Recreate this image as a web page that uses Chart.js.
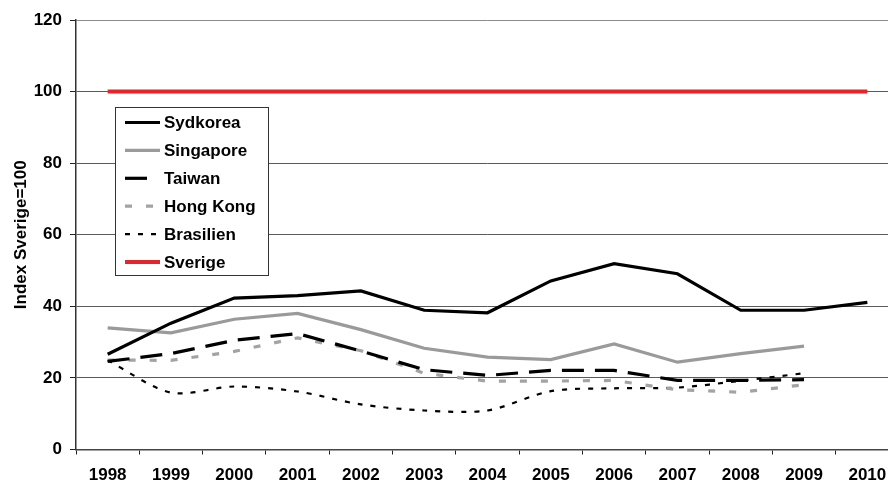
<!DOCTYPE html>
<html>
<head>
<meta charset="utf-8">
<script src="https://cdn.jsdelivr.net/npm/chart.js@4.4.1/dist/chart.umd.min.js"></script>
<style>
  html, body { margin: 0; padding: 0; background: #fff; overflow: hidden; }
  #wrap { width: 904px; height: 481px; }
</style>
</head>
<body>
<div id="wrap"><canvas id="myChart" width="904" height="481"></canvas></div>
<script>
const years = ['1998', '1999', '2000', '2001', '2002', '2003', '2004', '2005', '2006', '2007', '2008', '2009', '2010'];

const sydkorea  = [26.6, 35.3, 42.3, 43.0, 44.3, 38.9, 38.2, 47.1, 51.9, 49.1, 38.9, 38.9, 41.1];
const singapore = [34.0, 32.6, 36.4, 38.0, 33.5, 28.3, 25.8, 25.1, 29.5, 24.4, 26.8, 28.9, null];
const taiwan    = [24.6, 26.8, 30.5, 32.4, 27.5, 22.3, 20.7, 22.1, 22.1, 19.3, 19.3, 19.5, null];
const hongkong  = [25.0, 24.9, 27.4, 31.2, 27.6, 21.3, 19.1, 19.1, 19.3, 16.7, 16.0, 18.1, null];
const brasilien = [24.9, 15.9, 17.6, 16.2, 12.6, 10.9, 10.9, 16.3, 17.1, 17.3, 19.2, 21.3, null];
const sverige   = [100, 100, 100, 100, 100, 100, 100, 100, 100, 100, 100, 100, 100];

const yTicks = [0, 20, 40, 60, 80, 100, 120];

const FONT = "'Liberation Sans', Arial, sans-serif";

// legend box drawn inside the plot, reading styles from the datasets
const boxLegend = {
  id: 'boxLegend',
  afterDraw(chart) {
    const ctx = chart.ctx;
    const x0 = 115.5, y0 = 107.5, w = 153, h = 168;
    ctx.save();
    ctx.fillStyle = '#fff';
    ctx.fillRect(x0, y0, w, h);
    ctx.strokeStyle = '#333';
    ctx.lineWidth = 1;
    ctx.strokeRect(x0, y0, w, h);
    ctx.font = 'bold 17px ' + FONT;
    ctx.textBaseline = 'middle';
    ctx.textAlign = 'left';
    chart.data.datasets.forEach(function (ds, i) {
      const y = 122.5 + i * 27.9;
      const dash = ds.borderDash || [];
      // a long dash gets a single segment in the sample, like the plotted line
      const end = dash.length && dash[0] > 15 ? 125 + dash[0] : 160;
      ctx.beginPath();
      ctx.setLineDash(dash);
      ctx.lineDashOffset = 0;
      ctx.strokeStyle = ds.borderColor;
      ctx.lineWidth = ds.borderWidth;
      ctx.lineCap = 'butt';
      ctx.moveTo(125, y);
      ctx.lineTo(end, y);
      ctx.stroke();
      ctx.setLineDash([]);
      ctx.fillStyle = '#000';
      ctx.fillText(ds.label, 164, y + 1);
    });
    ctx.restore();
  }
};

function line(label, data, color, width, dash, tension) {
  return {
    label: label,
    data: data,
    borderColor: color,
    backgroundColor: color,
    borderWidth: width,
    borderDash: dash,
    borderCapStyle: 'butt',
    borderJoinStyle: 'miter',
    pointRadius: 0,
    pointHoverRadius: 0,
    tension: tension || 0,
    fill: false,
    spanGaps: false
  };
}

new Chart(document.getElementById('myChart'), {
  type: 'line',
  data: {
    labels: years,
    datasets: [
      line('Sydkorea', sydkorea, '#000000', 3.2, []),
      line('Singapore', singapore, '#9a9a9a', 3.2, []),
      line('Taiwan', taiwan, '#000000', 3.2, [22, 11]),
      line('Hong Kong', hongkong, '#a3a3a3', 3.2, [7, 14]),
      line('Brasilien', brasilien, '#000000', 2.2, [5, 8], 0.3),
      line('Sverige', sverige, '#e8232a', 4, [])
    ]
  },
  options: {
    responsive: false,
    animation: false,
    events: [],
    layout: { padding: { top: 20, right: 5, left: 0, bottom: 0 } },
    plugins: {
      legend: { display: false },
      tooltip: { enabled: false }
    },
    scales: {
      x: {
        offset: true,
        afterFit: function (scale) { scale.height = 31.5; },
        border: { display: true, color: '#444', width: 1.5 },
        grid: {
          offset: true,
          drawOnChartArea: false,
          drawTicks: true,
          tickLength: 5,
          color: '#222',
          lineWidth: 1
        },
        ticks: {
          color: '#000',
          padding: 11,
          maxRotation: 0,
          autoSkip: false,
          font: { family: FONT, size: 17, weight: 'bold' }
        }
      },
      y: {
        min: 0,
        max: 120,
        afterFit: function (scale) { scale.width = 76; },
        afterBuildTicks: function (scale) {
          scale.ticks = yTicks.map(v => ({ value: v }));
        },
        border: { display: true, color: '#333', width: 1.5 },
        grid: {
          color: function (c) { return c.tick && c.tick.value === 120 ? '#8c8c8c' : '#5a5a5a'; },
          lineWidth: 1,
          tickLength: 6,
          tickColor: '#222'
        },
        ticks: {
          color: '#000',
          padding: 8,
          font: { family: FONT, size: 17, weight: 'bold' }
        },
        title: {
          display: true,
          text: 'Index Sverige=100',
          color: '#000',
          padding: { top: 11, bottom: 0 },
          font: { family: FONT, size: 17, weight: 'bold' }
        }
      }
    }
  },
  plugins: [boxLegend]
});
</script>
</body>
</html>
